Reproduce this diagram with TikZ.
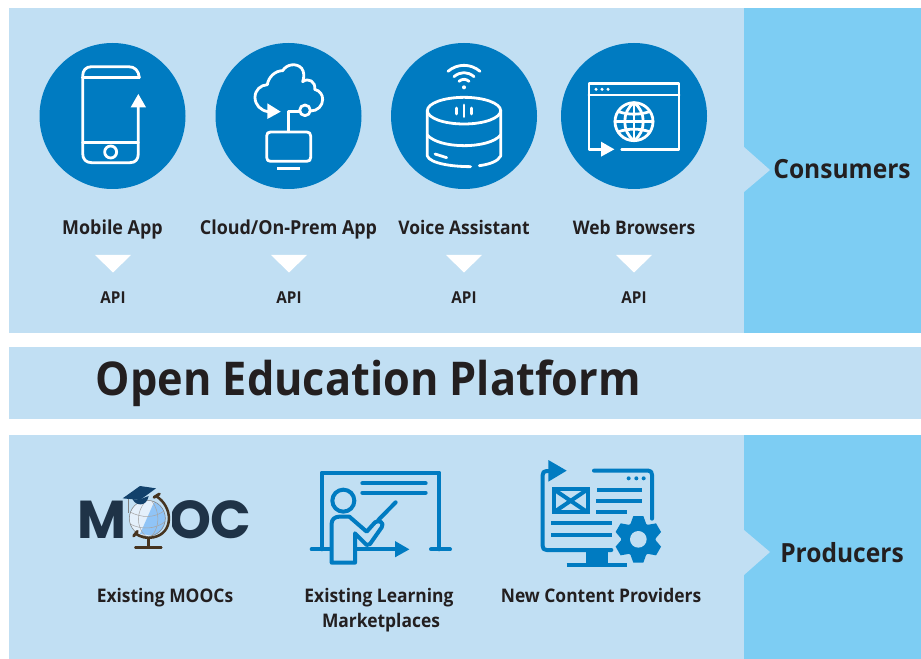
\documentclass[tikz,border=0pt]{standalone}
\usepackage{fontspec}
\setmainfont{Open Sans}[FakeStretch=0.93]
\newfontfamily\moocfont{Poppins}
\definecolor{panel}{HTML}{C1DFF3}
\definecolor{side}{HTML}{7DCDF3}
\definecolor{brandblue}{HTML}{007BC1}
\definecolor{inkdark}{HTML}{231F20}
\definecolor{mooc}{HTML}{1F3347}
\definecolor{globeblue}{HTML}{90C4F6}
\definecolor{globelight}{HTML}{E4F0FB}
\definecolor{globebrown}{HTML}{46341F}
\definecolor{capblue}{HTML}{12416B}
\tikzset{
 panelbox/.style={fill=panel,draw=none},
 sidebox/.style={fill=side,draw=none},
 disc/.style={circle,fill=brandblue,draw=none,minimum size=109.5pt,inner sep=0pt},
 iconw/.style={draw=white,line width=2.1pt,line cap=round,line join=round},
 iconb/.style={draw=brandblue,line width=3pt,line cap=round,line join=round},
 label/.style={font=\bfseries\fontsize{14.45}{18.75}\selectfont,text=inkdark,align=center,inner sep=0pt,anchor=base},
 labelsm/.style={font=\bfseries\fontsize{14.05}{18.75}\selectfont,text=inkdark,align=center,inner sep=0pt,anchor=base},
 apilabel/.style={font=\bfseries\fontsize{12.3}{14}\selectfont,text=inkdark,inner sep=0pt,anchor=base},
 sidelabel/.style={font=\bfseries\fontsize{19.8}{23}\selectfont,text=inkdark,inner sep=0pt,anchor=base},
 titlelabel/.style={font=\bfseries\fontsize{34.9}{40}\selectfont,text=inkdark,inner sep=0pt,anchor=base west},
 moocletter/.style={font=\moocfont\bfseries\fontsize{40}{44}\selectfont,text=mooc,inner sep=0pt,anchor=base},
 tri/.style={fill=white,draw=none},
 zoomA/.style={xshift=15pt,x=0.25pt,y=-0.25pt},
 zoomB/.style={xshift=285pt,x=0.25pt,y=-0.25pt},
 zoomC/.style={xshift=52.5pt,yshift=-337.5pt,x=0.25pt,y=-0.25pt},
 zoomD/.style={xshift=390pt,yshift=-337.5pt,x=0.25pt,y=-0.25pt},
}
\begin{document}
\begin{tikzpicture}[x=0.75pt,y=-0.75pt]
\useasboundingbox (0,0) rectangle (921,659);
% panels
\fill[panelbox] (9,8) rectangle (744,333);
\fill[sidebox] (744,8) rectangle (921,333);
\fill[panelbox] (744,147) -- (770,170) -- (744,192) -- cycle;
\fill[panelbox] (9,347) rectangle (921,419);
\fill[panelbox] (9,435) rectangle (744,659);
\fill[sidebox] (744,435) rectangle (921,659);
\fill[panelbox] (744,530) -- (770,552) -- (744,575) -- cycle;
% discs
\node[disc] (d1) at (112.5,116) {};
\node[disc] (d2) at (288.5,116) {};
\node[disc] (d3) at (464,116) {};
\node[disc] (d4) at (634,116) {};
% phone
\begin{scope}[zoomA]
\draw[iconw] (358,233) -- (187,233);
\draw[iconw] (358,233) .. controls (356,212) and (345,200) .. (325,200) -- (215,200) .. controls (197,200) and (188,212) .. (188,228) -- (188,460) .. controls (188,478) and (198,488) .. (215,488) -- (330,488) .. controls (347,488) and (355,478) .. (355,460) -- (355,310);
\draw[iconw] (188,427) -- (355,427);
\draw[iconw] (272,456) circle (18);
\fill[white] (332,322) -- (355,282) -- (378,322) -- cycle;
% cloud
\draw[iconw] (745,335) .. controls (722,332) and (705,315) .. (705,292) .. controls (705,270) and (722,255) .. (742,254) .. controls (745,232) and (765,212) .. (788,212) .. controls (800,192) and (830,188) .. (845,205) .. controls (853,215) and (853,232) .. (848,245) .. controls (865,232) and (888,245) .. (884,268) .. controls (900,272) and (908,285) .. (908,298) .. controls (908,318) and (892,333) .. (872,333);
\draw[iconw] (855,331) circle (16);
\draw[iconw] (839,335) -- (805,335) -- (805,395);
\draw[iconw] (755,396) -- (860,396) .. controls (868,396) and (872,400) .. (872,408) -- (872,472) .. controls (872,480) and (868,484) .. (860,484) -- (752,484) .. controls (744,484) and (740,480) .. (740,472) -- (740,408) .. controls (740,400) and (744,396) .. (752,396) -- cycle;
\draw[draw=white,line width=2.1pt] (772,505) -- (840,505);
\fill[white] (742,310) -- (782,335) -- (742,357) -- cycle;
\end{scope}
% speaker and browser
\begin{scope}[zoomB]
\fill[white] (252,262) circle (6);
\draw[iconw] (237,244) .. controls (246,236) and (258,236) .. (267,244);
\draw[iconw] (222,230) .. controls (240,214) and (264,214) .. (282,230);
\draw[iconw] (204,214) .. controls (232,190) and (272,190) .. (300,214);
\draw[iconw] (252,332) ellipse (110 and 40);
\draw[iconw] (142,332) -- (142,468) .. controls (150,490) and (215,500) .. (272,500);
\draw[iconw] (298,497) .. controls (330,493) and (355,483) .. (362,468) -- (362,332);
\draw[iconw] (142,405) .. controls (160,426) and (205,437) .. (252,437) .. controls (300,437) and (345,426) .. (362,405);
\draw[iconw] (165,462) -- (200,473);
\draw[iconw] (252,315) -- (252,350);
\draw[iconw] (230,324) -- (230,342);
\draw[iconw] (274,324) -- (274,342);
% browser
\draw[iconw] (663,448) -- (627,448) -- (627,250) -- (897,250) -- (897,448) -- (725,448);
\draw[iconw] (627,285) -- (897,285);
\foreach \px in {648,666,684} \fill[white] (\px,268) circle (5);
\draw[iconw] (762,365) circle (57);
\draw[iconw] (762,308) -- (762,422);
\draw[iconw] (762,308) .. controls (725,335) and (725,395) .. (762,422);
\draw[iconw] (762,308) .. controls (799,335) and (799,395) .. (762,422);
\draw[iconw] (705,365) -- (819,365);
\draw[iconw] (716,335) .. controls (745,345) and (779,345) .. (808,335);
\draw[iconw] (716,395) .. controls (745,385) and (779,385) .. (808,395);
\fill[white] (663,425) -- (703,448) -- (663,470) -- cycle;
\end{scope}
% labels
\node[label] (l1) at (112.5,234.5) {Mobile App};
\node[label] (l2) at (288.5,234.5) {Cloud/On-Prem App};
\node[labelsm] (l3) at (464,234.5) {Voice Assistant};
\node[labelsm] (l4) at (634,234.5) {Web Browsers};
\foreach \cx in {113,289,464,634} \fill[tri] (\cx-18,255) -- (\cx+18,255) -- (\cx,272.5) -- cycle;
\node[apilabel] (a1) at (113,303.5) {API};
\node[apilabel] (a2) at (289,303.5) {API};
\node[apilabel] (a3) at (464,303.5) {API};
\node[apilabel] (a4) at (634,303.5) {API};
\node[sidelabel] (consumers) at (842,179) {Consumers};
\node[sidelabel] (producers) at (842,562) {Producers};
\node[titlelabel] (title) at (95.5,395) {Open Education Platform};
% MOOC logo
\begin{scope}[zoomC]
\node[moocletter] (mm) at (96,265) {M};
\node[moocletter] (moc) at (421,265) {OC};
\fill[panel] (172,150) rectangle (306,270);
\fill[globelight] (232,205) circle (54);
\begin{scope}
\clip (232,205) circle (54);
\fill[globeblue] (255,150) -- (300,150) -- (300,262) -- (210,252) -- cycle;
\draw[gray!70,line width=.4pt] (178,185) .. controls (215,205) and (255,205) .. (286,180);
\draw[gray!70,line width=.4pt] (180,222) .. controls (215,240) and (255,238) .. (286,215);
\draw[gray!70,line width=.4pt] (228,152) .. controls (198,185) and (198,230) .. (226,258);
\draw[gray!70,line width=.4pt] (245,152) .. controls (270,185) and (270,230) .. (245,258);
\end{scope}
\draw[gray,line width=.4pt] (232,205) circle (54);
\draw[globebrown,line width=1.9pt] (258,138) .. controls (310,170) and (312,250) .. (250,262) .. controls (230,266) and (212,262) .. (195,250);
\draw[globebrown,line width=2.2pt,line cap=round] (252,142) -- (268,132);
\draw[globebrown,line width=2.2pt,line cap=round] (191,258) -- (202,244);
\draw[globebrown,line width=1.9pt] (235,264) -- (235,293);
\draw[globebrown,line width=1.9pt,line cap=round] (196,293) -- (274,293);
\fill[capblue] (188,147) .. controls (195,168) and (230,172) .. (236,138) -- (205,150) -- cycle;
\fill[capblue] (158,145) -- (210,108) -- (258,115) -- (210,150) -- cycle;
\draw[gray,line width=.4pt] (175,148) -- (175,188);
% teacher
\draw[iconb] (755,298) -- (755,68) -- (1108,68) -- (1108,298);
\draw[iconb] (725,298) -- (780,298);
\draw[iconb] (1083,298) -- (1140,298);
\draw[iconb] (877,100) -- (1067,100);
\draw[iconb] (877,128) -- (1067,128);
\draw[iconb] (820,152) circle (33);
\draw[iconb] (785,338) -- (785,220) .. controls (785,208) and (795,200) .. (808,200) -- (838,200) -- (890,245) -- (915,217) .. controls (925,208) and (945,218) .. (935,232) -- (900,282) -- (890,285) -- (855,250) -- (855,338) -- cycle;
\draw[iconb] (925,210) -- (977,157);
\draw[draw=brandblue,line width=3pt] (855,298) -- (980,298);
\fill[brandblue] (975,273) -- (1018,298) -- (975,322) -- cycle;
\end{scope}
% content provider
\begin{scope}[zoomD]
\draw[iconb] (85,63) -- (80,63) .. controls (72,63) and (68,67) .. (68,75) -- (68,288) .. controls (68,296) and (72,300) .. (80,300) -- (274,300);
\draw[iconb] (222,62) -- (385,62) .. controls (392,62) and (396,66) .. (396,74) -- (396,206);
\fill[brandblue] (85,30) -- (140,62) -- (85,95) -- cycle;
\foreach \px in {326,349,371} \fill[brandblue] (\px,85) circle (6);
\draw[draw=brandblue,line width=3pt] (101,118) rectangle (203,187);
\draw[draw=brandblue,line width=3pt] (101,118) -- (203,187);
\draw[draw=brandblue,line width=3pt] (203,118) -- (101,187);
\draw[draw=brandblue,line width=3pt] (232,120) -- (366,120);
\draw[draw=brandblue,line width=3pt] (228,153) -- (366,153);
\draw[draw=brandblue,line width=3pt] (228,186) -- (320,186);
\draw[draw=brandblue,line width=3pt] (93,219) -- (276,219);
\draw[draw=brandblue,line width=3pt] (93,255) -- (276,255);
\fill[brandblue] (197,305) rectangle (265,340);
\draw[draw=brandblue,line width=3pt] (140,344) -- (320,344);
% gear
\fill[brandblue] (355,268) circle (52);
\foreach \ang in {30,90,150,210,270,330} {
  \fill[brandblue,shift={(355,268)},rotate=\ang] (45,-24) -- (70,-15) -- (70,15) -- (45,24) -- cycle;
}
\fill[panel] (355,268) circle (25);
\end{scope}
% lower labels
\node[labelsm] (m1) at (165,602) {Existing MOOCs};
\node[labelsm] (m2) at (379,602) {Existing Learning};
\node[labelsm] (m2b) at (381,627) {Marketplaces};
\node[labelsm] (m3) at (601,602) {New Content Providers};
\end{tikzpicture}
\end{document}
